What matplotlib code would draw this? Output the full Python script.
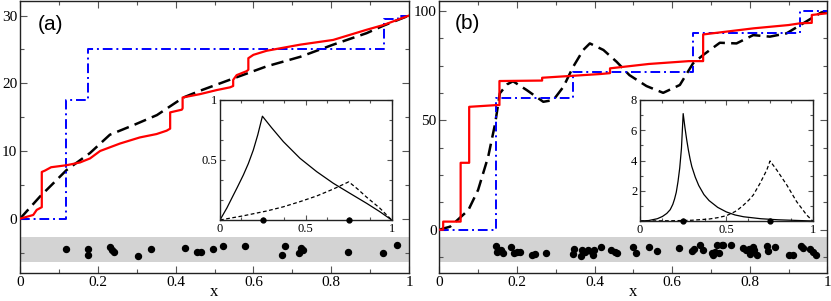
import matplotlib
matplotlib.use("Agg")
import matplotlib.pyplot as plt
from matplotlib.ticker import MultipleLocator, FuncFormatter

# ---------------- data: panel (a) ----------------
a_red_x = [0, 0.034, 0.043, 0.056, 0.056, 0.064, 0.08, 0.12, 0.154, 0.18, 0.206, 0.257, 0.308,
           0.351, 0.377, 0.386, 0.386, 0.416, 0.418, 0.418, 0.463, 0.506, 0.54, 0.548, 0.548,
           0.557, 0.583, 0.587, 0.587, 0.6, 0.634, 0.72, 0.805, 0.891, 0.934, 1.0]
a_red_y = [0, 0.55, 1.3, 1.7, 6.9, 7.1, 7.6, 7.9, 8.3, 8.9, 10.0, 11.1, 12.0,
           12.5, 13.0, 13.3, 15.7, 16.1, 16.3, 17.9, 18.4, 19.0, 19.4, 19.6, 20.5,
           21.2, 21.8, 22.0, 23.7, 24.2, 24.8, 25.7, 26.4, 27.9, 28.6, 30.0]
a_blue_x = [0, 0.118, 0.118, 0.175, 0.175, 0.936, 0.936, 0.973, 0.973, 1.0]
a_blue_y = [0, 0, 17.6, 17.6, 25.0, 25.0, 29.5, 29.5, 30.0, 30.0]
a_black_x = [0, 0.051, 0.12, 0.18, 0.231, 0.291, 0.352, 0.42, 0.463, 0.548, 0.634, 0.72,
             0.805, 0.891, 0.934, 1.0]
a_black_y = [0, 3.25, 7.2, 9.7, 12.4, 13.8, 15.3, 17.9, 18.9, 20.7, 22.5, 23.9,
             25.7, 27.4, 28.5, 30.0]
a_dots_x = [0.117, 0.175, 0.175, 0.231, 0.236, 0.242, 0.304, 0.336, 0.425, 0.454, 0.466,
            0.495, 0.523, 0.579, 0.673, 0.681, 0.718, 0.722, 0.728, 0.843, 0.934, 0.970]
a_dots_y = [-4.5, -4.5, -5.3, -4.2, -4.6, -4.9, -5.5, -4.5, -4.4, -4.9, -4.9,
            -4.5, -4.1, -4.0, -5.3, -4.0, -5.1, -4.3, -4.6, -4.9, -5.1, -3.9]

# inset (a)
ia_solid_x = [0, 0.04, 0.078, 0.1, 0.136, 0.165, 0.194, 0.22, 0.247, 0.3, 0.369, 0.466,
              0.563, 0.66, 0.757, 0.854, 0.93, 1.0]
ia_solid_y = [0, 0.1, 0.208, 0.27, 0.375, 0.47, 0.583, 0.71, 0.865, 0.77, 0.653, 0.514,
              0.403, 0.306, 0.222, 0.139, 0.07, 0.0]
ia_dash_x = [0, 0.136, 0.272, 0.369, 0.466, 0.563, 0.66, 0.75, 0.8, 0.854, 0.93, 1.0]
ia_dash_y = [0, 0.035, 0.075, 0.11, 0.153, 0.2, 0.258, 0.318, 0.26, 0.19, 0.1, 0.0]
ia_pts_x = [0.25, 0.75]
ia_pts_y = [0, 0]

# ---------------- data: panel (b) ----------------
b_red_x = [0, 0.010, 0.010, 0.055, 0.055, 0.077, 0.077, 0.148, 0.155, 0.155, 0.26, 0.265, 0.265,
           0.415, 0.44, 0.44, 0.54, 0.643, 0.68, 0.68, 0.81, 0.90, 0.93, 0.96, 0.96, 1.0]
b_red_y = [0, 0, 3.7, 3.7, 30.6, 30.6, 56.2, 57.0, 57.0, 68.0, 68.2, 68.2, 69.5,
           71.2, 71.6, 73.8, 75.8, 77.1, 77.1, 89.3, 92.1, 93.6, 94.4, 94.6, 98.2, 99.0]
b_blue_x = [0, 0.146, 0.146, 0.345, 0.345, 0.653, 0.653, 0.93, 0.93, 1.0]
b_blue_y = [0, 0, 60.4, 60.4, 72.0, 72.0, 89.9, 89.9, 100.0, 100.0]
b_black_x = [0, 0.028, 0.075, 0.1, 0.126, 0.144, 0.156, 0.175, 0.19, 0.225, 0.268, 0.294,
             0.32, 0.345, 0.371, 0.388, 0.423, 0.457, 0.49, 0.534, 0.577, 0.62, 0.654,
             0.68, 0.723, 0.766, 0.809, 0.852, 0.895, 0.938, 0.981, 1.0]
b_black_y = [0, 1.4, 9.0, 18.2, 33.4, 48.6, 62.4, 66.5, 67.9, 63.9, 58.5, 59.3,
             65.4, 74.5, 82.2, 85.2, 82.2, 76.8, 70.7, 65.7, 62.6, 66.2, 76.1,
             79.9, 85.5, 85.2, 89.0, 88.3, 89.8, 94.4, 99.0, 100.0]
b_dots_x = [0.146, 0.148, 0.159, 0.163, 0.186, 0.193, 0.201, 0.208, 0.240, 0.247, 0.275,
            0.347, 0.344, 0.365, 0.369, 0.375, 0.384, 0.393, 0.395, 0.399, 0.418, 0.442,
            0.453, 0.459, 0.500, 0.507, 0.540, 0.562, 0.619, 0.650, 0.656, 0.672, 0.679,
            0.702, 0.706, 0.710, 0.717, 0.722, 0.728, 0.732, 0.753, 0.784, 0.790, 0.799,
            0.801, 0.808, 0.812, 0.820, 0.844, 0.848, 0.865, 0.902, 0.911, 0.932, 0.938,
            0.955, 0.962, 0.971]
b_dots_y = [-7.3, -10.1, -9.3, -10.8, -7.8, -10.5, -10.1, -10.1, -11.6, -11.1, -10.5,
            -8.8, -11.1, -12.0, -9.3, -10.1, -9.3, -10.1, -11.6, -9.3, -7.9, -9.3,
            -10.1, -10.8, -8.1, -10.8, -7.8, -9.8, -8.5, -9.8, -8.8, -7.0, -9.3,
            -10.8, -11.6, -10.1, -7.0, -10.8, -7.0, -7.0, -7.2, -8.5, -9.3, -9.0,
            -11.1, -7.8, -9.3, -11.6, -7.5, -9.6, -7.9, -11.6, -11.6, -7.5, -8.5,
            -9.0, -10.1, -11.6]

# inset (b)
ib_solid_x = [0, 0.05, 0.1, 0.13, 0.155, 0.175, 0.19, 0.2, 0.21, 0.22, 0.23, 0.24, 0.25,
              0.26, 0.27, 0.28, 0.29, 0.30, 0.32, 0.34, 0.37, 0.40, 0.45, 0.5, 0.55, 0.6,
              0.7, 0.8, 0.9, 1.0]
ib_solid_y = [0, 0.03, 0.15, 0.3, 0.5, 0.75, 1.1, 1.45, 1.9, 2.6, 3.5, 4.8, 7.1,
              6.2, 5.4, 4.7, 4.1, 3.6, 2.9, 2.35, 1.75, 1.35, 0.9, 0.6, 0.4, 0.28,
              0.15, 0.08, 0.04, 0.0]
ib_dash_x = [0, 0.2, 0.3, 0.4, 0.45, 0.5, 0.55, 0.575, 0.6, 0.63, 0.656, 0.695, 0.734,
             0.753, 0.792, 0.85, 0.907, 0.965, 1.0]
ib_dash_y = [0, 0.02, 0.05, 0.13, 0.22, 0.35, 0.62, 0.82, 1.06, 1.38, 1.72, 2.49, 3.37,
             3.97, 3.37, 2.38, 1.28, 0.4, 0.0]
ib_pts_x = [0.25, 0.75]
ib_pts_y = [0, 0]

# ---------------- plotting ----------------
W, H = 831, 301
fig = plt.figure(figsize=(W / 100, H / 100), dpi=100)

serif = ["Liberation Serif", "DejaVu Serif"]
sans = ["Liberation Sans", "DejaVu Sans"]


def fmt(v, pos):
    return "%g" % round(v, 6)


def fmt_nozero(v, pos):
    if abs(v) < 1e-9:
        return ""
    return "%g" % round(v, 6)


def style(ax, xmaj, xmin, ymaj, ymin, size, zero_y=True, major_len=5, minor_len=3):
    ax.xaxis.set_major_locator(MultipleLocator(xmaj))
    ax.xaxis.set_minor_locator(MultipleLocator(xmin))
    ax.yaxis.set_major_locator(MultipleLocator(ymaj))
    ax.yaxis.set_minor_locator(MultipleLocator(ymin))
    ax.xaxis.set_major_formatter(FuncFormatter(fmt))
    ax.yaxis.set_major_formatter(FuncFormatter(fmt if zero_y else fmt_nozero))
    ax.tick_params(which="both", direction="in", top=True, right=True,
                   labelsize=size, width=0.8, color="#555555")
    ax.tick_params(which="major", length=major_len, pad=2)
    ax.tick_params(which="minor", length=minor_len)
    for lab in ax.get_xticklabels() + ax.get_yticklabels():
        lab.set_family(serif)
    for s in ax.spines.values():
        s.set_linewidth(1.0)
        s.set_color("#222222")


# panel (a)
axa = fig.add_axes([20 / W, 28 / H, 389 / W, 272 / H])
axa.axhspan(-6.35, -2.65, color="#d3d3d3", lw=0, zorder=0)
axa.plot(a_black_x, a_black_y, color="black", lw=1.8, dashes=(5, 2.5), zorder=2)
axa.plot(a_blue_x, a_blue_y, color="#0000ff", lw=1.4, dashes=(5, 2, 1, 2), zorder=3)
axa.plot(a_red_x, a_red_y, color="#ff0000", lw=1.6, zorder=4)
axa.plot(a_dots_x, a_dots_y, "o", color="black", ms=4.3, zorder=5)
axa.set_xlim(0, 1)
axa.set_ylim(-8.02, 32.15)
style(axa, 0.2, 0.1, 10, 5, 11)
axa.set_xlabel("x", family=serif, fontsize=12, labelpad=-3.5)
axa.text(0.046, 0.912, "(a)", transform=axa.transAxes, family=sans, fontsize=15,
         ha="left", va="center")

# panel (b)
axb = fig.add_axes([439.3 / W, 28 / H, 388 / W, 272 / H])
axb.axhspan(-14.6, -3.5, color="#d3d3d3", lw=0, zorder=0)
axb.plot(b_black_x, b_black_y, color="black", lw=1.8, dashes=(5, 2.5), zorder=2)
axb.plot(b_blue_x, b_blue_y, color="#0000ff", lw=1.4, dashes=(5, 2, 1, 2), zorder=3)
axb.plot(b_red_x, b_red_y, color="#ff0000", lw=1.6, zorder=4)
axb.plot(b_dots_x, b_dots_y, "o", color="black", ms=4.3, zorder=5)
axb.set_xlim(0, 1)
axb.set_ylim(-19.8, 104.6)
style(axb, 0.2, 0.1, 50, 12.5, 11)
axb.set_xlabel("x", family=serif, fontsize=12, labelpad=-3.5)
axb.text(0.041, 0.919, "(b)", transform=axb.transAxes, family=sans, fontsize=15,
         ha="left", va="center")

# inset (a)
ina = fig.add_axes([220 / W, 81 / H, 171.7 / W, 120 / H])
ina.plot(ia_solid_x, ia_solid_y, color="black", lw=0.9)
ina.plot(ia_dash_x, ia_dash_y, color="black", lw=0.9, dashes=(3, 2))
ina.plot(ia_pts_x, ia_pts_y, "o", color="black", ms=3.5, clip_on=False, zorder=5)
ina.set_xlim(0, 1)
ina.set_ylim(0, 1)
style(ina, 0.5, 0.125, 0.5, 1 / 6, 9, zero_y=False, major_len=3.5, minor_len=2)

# inset (b)
inb = fig.add_axes([640 / W, 80 / H, 172.7 / W, 121 / H])
inb.plot(ib_solid_x, ib_solid_y, color="black", lw=0.9)
inb.plot(ib_dash_x, ib_dash_y, color="black", lw=0.9, dashes=(3, 2))
inb.plot(ib_pts_x, ib_pts_y, "o", color="black", ms=3.5, clip_on=False, zorder=5)
inb.set_xlim(0, 1)
inb.set_ylim(0, 8)
style(inb, 0.5, 0.125, 2, 1, 9, zero_y=False, major_len=3.5, minor_len=2)

fig.savefig("out.png", dpi=100)
